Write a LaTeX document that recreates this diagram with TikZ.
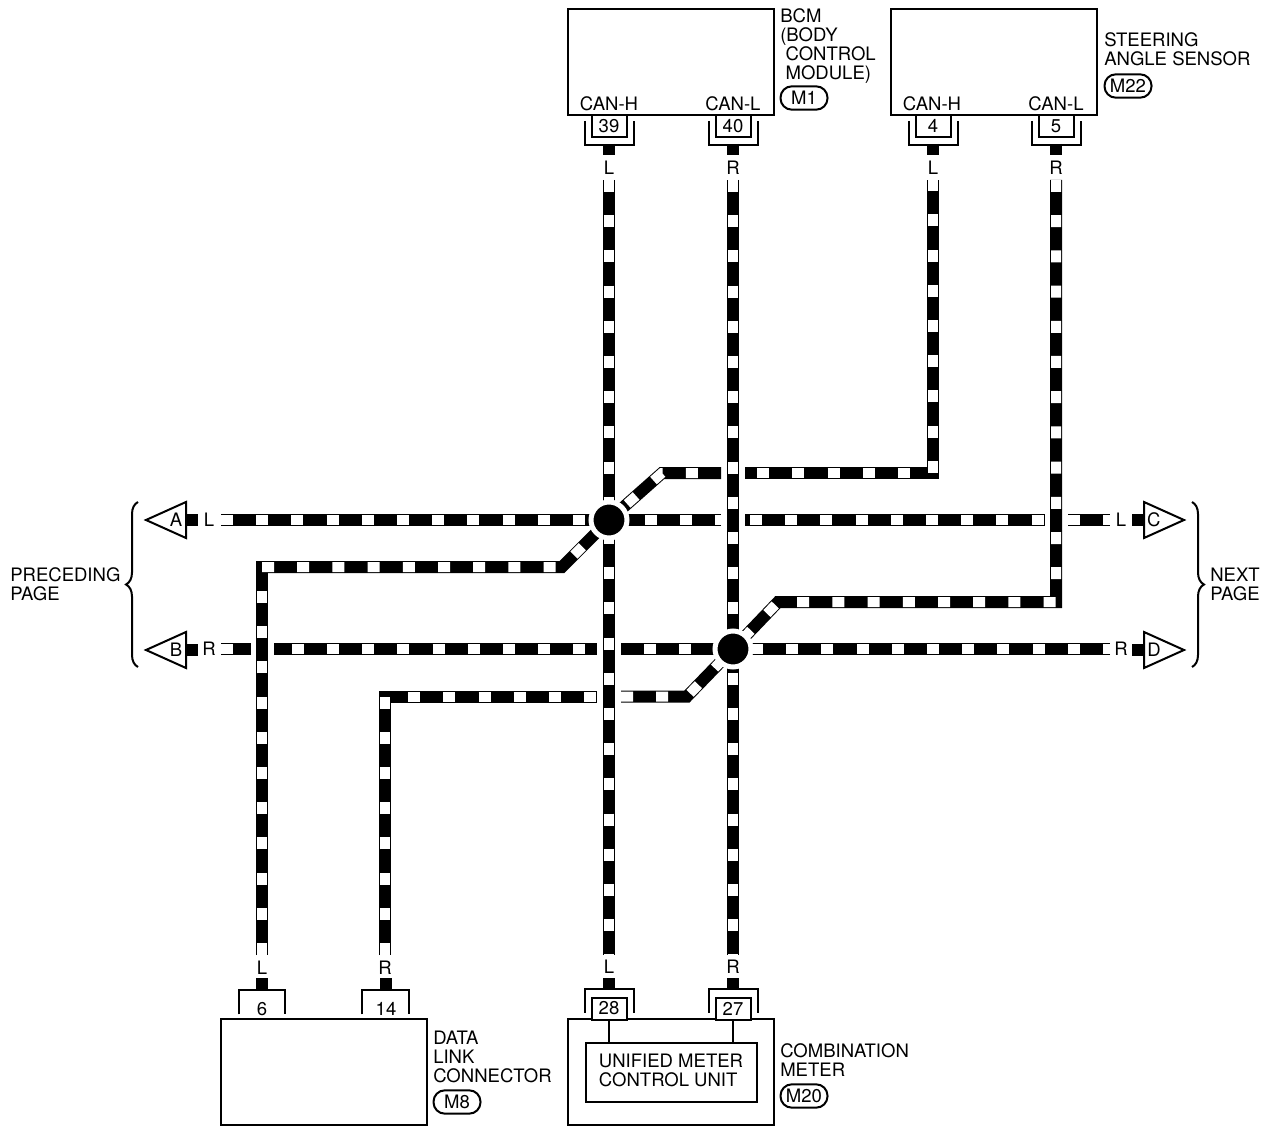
\documentclass[tikz,border=0pt]{standalone}
\usepackage{fontspec}
\setmainfont{TeX Gyre Heros}
\usetikzlibrary{positioning}
\usetikzlibrary{shapes.geometric}
\usetikzlibrary{decorations.pathreplacing}
\tikzset{
  txt/.style={inner sep=0pt, font=\fontsize{13.9pt}{14.25pt}\selectfont},
  unitname/.style={txt, align=left, anchor=north west},
  unitbox/.style={draw, line width=1.5pt, inner sep=0pt, minimum width=154.5pt, minimum height=79.5pt},
  conn/.style={txt, draw, fill=white, line width=1.5pt, minimum width=26.25pt, minimum height=16.5pt},
  openpin/.style={inner sep=0pt, minimum width=34.5pt, minimum height=18pt},
  pill/.style={txt, draw, line width=1.5pt, rounded corners=8.5pt, minimum width=35.25pt, minimum height=17.5pt},
  line/.style={line width=1.5pt},
  stub/.style={line width=9pt},
  wire/.style={line width=9pt, postaction={draw, white, line width=7.5pt, dash pattern=on 9pt off 17.4pt, dash phase=#1}},
  wire/.default=0pt,
  junction/.style={circle, fill=black, draw=white, line width=3.75pt, inner sep=0pt, minimum size=27pt},
  flag/.style={txt, draw, line width=1.5pt, isosceles triangle, isosceles triangle stretches, inner sep=0pt,
    minimum width=27pt, minimum height=30pt},
  brace/.style={line width=1.5pt, decorate, decoration={brace, amplitude=9pt, aspect=0.5}},
}
\begin{document}
\begin{tikzpicture}[x=0.75pt, y=-0.75pt]
  \useasboundingbox (0,0) rectangle (1270,1126);

  % units
  \node[unitbox] (bcm) at (671,62) {};
  \node[unitbox] (sas) at (994,62) {};
  \node[unitbox] (dlc) at (324,1072) {};
  \node[unitbox] (meter) at (671,1072) {};
  \node[draw, line width=1.5pt, inner sep=0pt, minimum width=128.25pt, minimum height=44.25pt] (umcu) at (671.5,1072.5) {};
  \node[txt, align=left] (umcutext) at (671,1070.5) {UNIFIED METER\\CONTROL UNIT};

  \node[txt, above=3.5pt of bcm.south, xshift=-46.5pt] (canh1) {CAN-H};
  \node[txt, above=3.5pt of bcm.south, xshift=46.5pt] (canl1) {CAN-L};
  \node[txt, above=3.5pt of sas.south, xshift=-46.5pt] (canh2) {CAN-H};
  \node[txt, above=3.5pt of sas.south, xshift=46.5pt] (canl2) {CAN-L};

  \node[unitname] (bcmname) at (780,8) {BCM\\(BODY\\\hspace*{4pt}CONTROL\\\hspace*{4pt}MODULE)};
  \node[unitname] (sasname) at (1104,32) {STEERING\\ANGLE SENSOR};
  \node[unitname] (dlcname) at (433,1031) {DATA\\LINK\\CONNECTOR};
  \node[unitname] (metername) at (780,1043) {COMBINATION\\METER};
  \node[pill] (m1) at (804,98) {M1};
  \node[pill] (m22) at (1128,86) {M22};
  \node[pill] (m8) at (457,1102) {M8};
  \node[pill] (m20) at (804,1096) {M20};

  % connectors
  \node[conn] (c39) at (609,126) {39};
  \node[conn] (c40) at (733,126) {40};
  \node[conn] (c4) at (933,126) {4};
  \node[conn] (c5) at (1056,126) {5};
  \node[conn] (c28) at (609,1008.5) {28};
  \node[conn] (c27) at (733,1008.5) {27};
  \node[openpin] (p6) at (262,1002) {};
  \node[openpin] (p14) at (385.5,1002) {};
  \node[txt] (n6) at (262,1009) {6};
  \node[txt] (n14) at (386,1009) {14};

  \draw[line] ([shift={(-6,-17)}]c39.south west) |- ([shift={(6,7)}]c39.south east) -- ([shift={(6,-17)}]c39.south east);
  \draw[line] ([shift={(-6,-17)}]c40.south west) |- ([shift={(6,7)}]c40.south east) -- ([shift={(6,-17)}]c40.south east);
  \draw[line] ([shift={(-6,-17)}]c4.south west) |- ([shift={(6,7)}]c4.south east) -- ([shift={(6,-17)}]c4.south east);
  \draw[line] ([shift={(-6,-17)}]c5.south west) |- ([shift={(6,7)}]c5.south east) -- ([shift={(6,-17)}]c5.south east);
  \draw[line] ([shift={(-6,16)}]c28.north west) |- ([shift={(6,-8)}]c28.north east) -- ([shift={(6,16)}]c28.north east);
  \draw[line] ([shift={(-6,16)}]c27.north west) |- ([shift={(6,-8)}]c27.north east) -- ([shift={(6,16)}]c27.north east);
  \draw[line] (p6.south west) |- (p6.north east) -- (p6.south east);
  \draw[line] (p14.south west) |- (p14.north east) -- (p14.south east);
  \draw[line] (c28.south) -- (umcu.north -| c28.south);
  \draw[line] (c27.south) -- (umcu.north -| c27.south);

  % wire colour letters
  \node[txt] (l39) at (609,168) {L};
  \node[txt] (l40) at (733,168) {R};
  \node[txt] (l4) at (933,168) {L};
  \node[txt] (l5) at (1056,168) {R};
  \node[txt] (l6) at (262,968) {L};
  \node[txt] (l14) at (385,968) {R};
  \node[txt] (l28) at (609,967) {L};
  \node[txt] (l27) at (733,967) {R};
  \node[txt] (la) at (209,520) {L};
  \node[txt] (lb) at (209,649) {R};
  \node[txt] (lc) at (1121,520) {L};
  \node[txt] (ld) at (1121,649) {R};

  % stubs
  \draw[stub] (609,144) -- (609,155);
  \draw[stub] (733,144) -- (733,155);
  \draw[stub] (933,144) -- (933,155);
  \draw[stub] (1056,144) -- (1056,155);
  \draw[stub] (262,978) -- (p6.north);
  \draw[stub] (385.5,978) -- (p14.north);
  \draw[stub] (609,978) -- (609,989);
  \draw[stub] (733,978) -- (733,989);

  % page flags
  \node[flag, shape border rotate=180, anchor=lower side] (fa) at (187,520) {A};
  \node[flag, shape border rotate=180, anchor=lower side] (fb) at (187,650) {B};
  \node[flag, anchor=lower side] (fc) at (1143,520) {C};
  \node[flag, anchor=lower side] (fd) at (1143,650) {D};
  \draw[stub] (fa.lower side) -- (198,520);
  \draw[stub] (fb.lower side) -- (198,650);
  \draw[stub] (fc.lower side) -- (1132,520);
  \draw[stub] (fd.lower side) -- (1132,650);
  \draw[brace] (138,667) -- (138,502);
  \draw[brace] (1192,502) -- (1192,667);
  \node[unitname] (prev) at (10,567.5) {PRECEDING\\PAGE};
  \node[unitname] (next) at (1210,567.5) {NEXT\\PAGE};

  % harness
  \coordinate (j1) at (609,520);
  \coordinate (j2) at (733,649);
  \draw[wire] (609,180) -- (609,955);
  \draw[wire] (733,180) -- (733,955);
  \draw[wire=17.25pt] (745,473) -- (933,473) -- (933,180);
  \draw[wire] (1056,180) -- (1056,602) -- (778,602) -- (j2);
  \draw[wire] (262,955) -- (262,570);
  \draw[stub] (262,575) -- (262,561);
  \draw[wire] (262,567) -- (562,567) -- (j1);
  \draw[wire] (385,955) -- (385,696.5) -- (597,696.5);
  \draw[wire] (621,696.5) -- (687,696.5) -- (j2);
  \draw[wire=9pt] (721,473) -- (662,473) -- (j1);
  \draw[wire] (221,520) -- (j1);
  \draw[wire=4.5pt] (721,520) -- (j1);
  \draw[wire=22.65pt] (745,520) -- (1045,520);
  \draw[wire] (1068,520) -- (1110,520);
  \draw[wire] (221,649) -- (251,649);
  \draw[wire=13.05pt] (274,649) -- (597,649);
  \draw[wire=9pt] (621,649) -- (j2);
  \draw[wire=3.75pt] (1110,649) -- (j2);
  \node[junction] (dot1) at (j1) {};
  \node[junction] (dot2) at (j2) {};
\end{tikzpicture}
\end{document}
